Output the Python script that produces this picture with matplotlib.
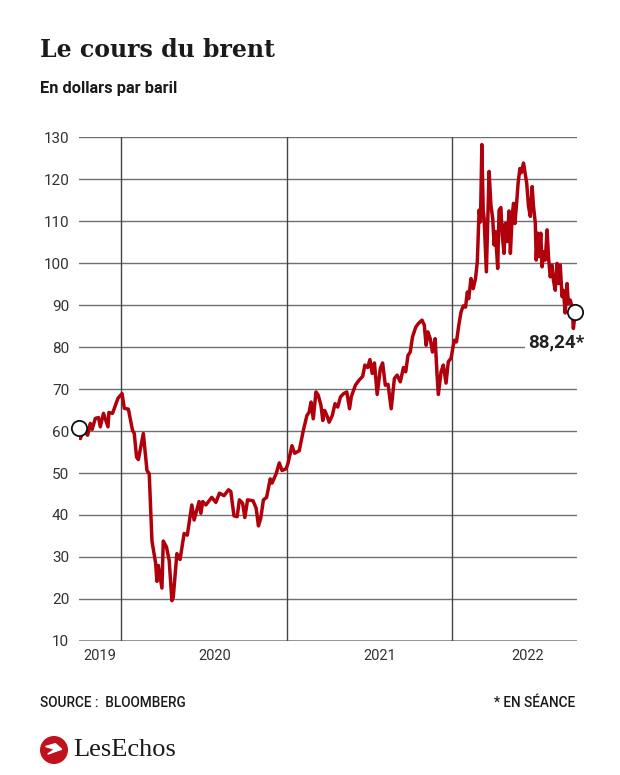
import matplotlib
matplotlib.use('Agg')
import matplotlib.pyplot as plt
from matplotlib.patches import Circle
import pandas as pd

# brent price (USD per barrel)
dates = ['2019-09-30', '2019-10-03', '2019-10-10', '2019-10-19', '2019-10-25', '2019-10-29',
         '2019-11-05', '2019-11-12', '2019-11-16', '2019-11-23', '2019-12-03', '2019-12-05',
         '2019-12-13', '2019-12-17', '2019-12-25', '2020-01-03', '2020-01-08', '2020-01-17',
         '2020-01-26', '2020-01-30', '2020-02-04', '2020-02-08', '2020-02-19', '2020-02-27',
         '2020-03-03', '2020-03-09', '2020-03-17', '2020-03-20', '2020-03-23', '2020-03-31',
         '2020-04-03', '2020-04-10', '2020-04-16', '2020-04-22', '2020-04-25', '2020-05-03',
         '2020-05-10', '2020-05-19', '2020-05-26', '2020-06-05', '2020-06-10', '2020-06-16',
         '2020-06-21', '2020-06-25', '2020-06-29', '2020-07-06', '2020-07-19', '2020-07-28',
         '2020-08-05', '2020-08-15', '2020-08-25', '2020-08-30', '2020-09-06', '2020-09-13',
         '2020-09-18', '2020-09-25', '2020-09-30', '2020-10-06', '2020-10-18', '2020-10-25',
         '2020-10-30', '2020-11-04', '2020-11-10', '2020-11-17', '2020-11-25', '2020-11-29',
         '2020-12-08', '2020-12-15', '2020-12-21', '2020-12-30', '2021-01-03', '2021-01-12',
         '2021-01-18', '2021-01-28', '2021-02-06', '2021-02-14', '2021-02-19', '2021-02-23',
         '2021-02-28', '2021-03-06', '2021-03-11', '2021-03-17', '2021-03-21', '2021-03-25',
         '2021-03-30', '2021-04-04', '2021-04-11', '2021-04-17', '2021-04-23', '2021-04-29',
         '2021-05-06', '2021-05-13', '2021-05-19', '2021-05-23', '2021-06-01', '2021-06-09',
         '2021-06-17', '2021-06-22', '2021-06-28', '2021-07-03', '2021-07-08', '2021-07-13',
         '2021-07-19', '2021-07-26', '2021-07-31', '2021-08-06', '2021-08-12', '2021-08-19',
         '2021-08-26', '2021-09-01', '2021-09-08', '2021-09-15', '2021-09-20', '2021-09-25',
         '2021-09-30', '2021-10-05', '2021-10-12', '2021-10-18', '2021-10-26', '2021-10-31',
         '2021-11-04', '2021-11-08', '2021-11-13', '2021-11-18', '2021-11-24', '2021-11-28',
         '2021-12-01', '2021-12-07', '2021-12-12', '2021-12-18', '2021-12-23', '2021-12-29',
         '2022-01-05', '2022-01-10', '2022-01-15', '2022-01-20', '2022-01-25', '2022-01-30',
         '2022-02-03', '2022-02-06', '2022-02-11', '2022-02-16', '2022-02-21', '2022-02-25',
         '2022-03-01', '2022-03-04', '2022-03-07', '2022-03-10', '2022-03-12', '2022-03-17',
         '2022-03-23', '2022-03-27', '2022-03-31', '2022-04-03', '2022-04-06', '2022-04-11',
         '2022-04-14', '2022-04-18', '2022-04-21', '2022-04-25', '2022-04-28', '2022-05-02',
         '2022-05-06', '2022-05-09', '2022-05-13', '2022-05-16', '2022-05-19', '2022-05-23',
         '2022-05-26', '2022-05-30', '2022-06-02', '2022-06-07', '2022-06-11', '2022-06-14',
         '2022-06-18', '2022-06-22', '2022-06-26', '2022-06-29', '2022-07-03', '2022-07-05',
         '2022-07-08', '2022-07-12', '2022-07-15', '2022-07-18', '2022-07-21', '2022-07-25',
         '2022-07-29', '2022-08-01', '2022-08-05', '2022-08-09', '2022-08-12', '2022-08-16',
         '2022-08-20', '2022-08-23', '2022-08-27', '2022-08-31', '2022-09-03', '2022-09-07',
         '2022-09-11', '2022-09-14', '2022-09-18', '2022-09-22', '2022-09-25', '2022-09-29']
prices = [60.8, 58.2, 60.2, 59.0, 61.8, 60.4,
          63.0, 63.2, 61.0, 64.2, 61.0, 64.4,
          64.2, 65.4, 67.8, 68.9, 65.4, 65.2,
          60.2, 59.4, 53.8, 53.2, 59.4, 50.6,
          49.8, 33.8, 28.6, 24.2, 28.0, 22.6,
          33.8, 32.4, 29.2, 19.6, 20.4, 30.8,
          29.4, 35.6, 35.2, 42.4, 38.8, 41.2,
          43.2, 40.4, 43.2, 42.4, 44.2, 43.0,
          45.2, 44.6, 46.0, 45.6, 39.8, 39.6,
          43.6, 42.8, 39.4, 43.6, 43.4, 41.6,
          37.4, 39.2, 43.6, 44.2, 48.6, 47.6,
          49.8, 52.4, 50.6, 51.0, 52.2, 56.5,
          54.7, 55.3, 60.1, 63.7, 64.5, 66.9,
          62.9, 69.3, 68.5, 66.1, 62.5, 64.9,
          63.7, 62.1, 63.7, 66.5, 65.7, 68.1,
          68.9, 69.3, 65.3, 68.2, 70.9, 72.1,
          73.0, 75.7, 75.1, 77.0, 73.7, 76.2,
          68.7, 74.9, 76.2, 70.9, 71.1, 65.3,
          72.5, 73.3, 71.7, 75.1, 74.1, 78.0,
          78.8, 82.4, 84.7, 85.6, 86.4, 85.2,
          80.4, 83.6, 82.0, 78.8, 82.0, 73.7,
          68.7, 74.1, 75.7, 71.4, 76.5, 77.3,
          81.6, 81.2, 85.1, 88.3, 89.8, 89.5,
          93.1, 91.5, 96.3, 93.9, 96.3, 100.3,
          112.6, 109.8, 128.2, 112.6, 110.6, 97.9,
          121.8, 113.8, 110.6, 104.3, 107.5, 98.7,
          112.6, 113.2, 106.7, 102.3, 109.4, 105.1,
          112.4, 102.3, 111.4, 114.2, 109.4, 114.6,
          119.0, 122.5, 121.5, 123.8, 121.0, 119.0,
          113.5, 111.1, 118.2, 113.5, 109.5, 100.7,
          107.1, 101.5, 107.1, 99.1, 102.7, 100.7,
          107.9, 101.5, 96.7, 99.5, 95.9, 93.5,
          99.9, 95.1, 99.5, 92.0, 93.5, 88.1,
          95.1, 90.4, 91.2, 89.6, 84.4, 88.24]

year_lines = ['2020-01-01', '2021-01-01', '2022-01-01']
year_labels = ['2019', '2020', '2021', '2022']
year_label_dates = ['2019-11-16', '2020-07-26', '2021-07-25', '2022-06-17']
last_label = '88,24*'

x = pd.to_datetime(dates)
red = '#b0000c'
sans = ['Roboto', 'DejaVu Sans']

fig = plt.figure(figsize=(6.2, 7.75), dpi=100)
ax = fig.add_axes([79 / 620, 1 - 641 / 775, 498 / 620, 504 / 775])

ax.set_xlim(pd.Timestamp('2019-09-30'), pd.Timestamp('2022-10-03'))
ax.set_ylim(10, 130)
ax.set_yticks(range(10, 131, 10))

for v in range(20, 131, 10):
    ax.axhline(v, color='#707070', lw=1.0, zorder=1)
ax.axhline(10, color='#8a8a8a', lw=2.0, zorder=1)
for d in year_lines:
    ax.axvline(pd.Timestamp(d), color='#444444', lw=1.0, zorder=1)

ax.plot(x, prices, color=red, lw=2.5, zorder=3, solid_joinstyle='round')
ax.plot([x[0], x[-1]], [prices[0], prices[-1]], 'o', ms=11, mfc='white',
        mec='#111111', mew=1.3, zorder=4, clip_on=False)

ax.annotate(last_label, xy=(1.014, 81), xycoords=('axes fraction', 'data'),
            ha='right', va='center', fontsize=13.5, fontweight='bold',
            family=sans, color='#222222', zorder=5,
            bbox=dict(boxstyle='square,pad=0.15', fc='white', ec='none'),
            annotation_clip=False)

for s in ax.spines.values():
    s.set_visible(False)
ax.tick_params(axis='y', length=0, pad=7, labelsize=11, labelcolor='#333333')
ax.set_xticks([pd.Timestamp(d) for d in year_label_dates])
ax.set_xticklabels(year_labels)
ax.tick_params(axis='x', length=0, pad=6, labelsize=10.5, labelcolor='#333333')
for lab in ax.get_xticklabels() + ax.get_yticklabels():
    lab.set_family(sans)

fig.text(40 / 620, 1 - 50 / 775, 'Le cours du brent', fontsize=17, fontweight='bold',
         family=['DejaVu Serif'], color='#1a1a1a', va='center', ha='left')
fig.text(40 / 620, 1 - 88 / 775, 'En dollars par baril', fontsize=11.8, fontweight='bold',
         family=sans, color='#1a1a1a', va='center', ha='left')
fig.text(40 / 620, 1 - 703 / 775, 'SOURCE :  BLOOMBERG', fontsize=9.8, fontweight='medium',
         family=sans, color='#1a1a1a', va='center', ha='left')
fig.text(575 / 620, 1 - 703 / 775, '* EN SÉANCE', fontsize=9.8, fontweight='medium',
         family=sans, color='#1a1a1a', va='center', ha='right')

# logo
logo = fig.add_axes([40 / 620, 1 - 764 / 775, 28 / 620, 28 / 775])
logo.set_xlim(-1, 1)
logo.set_ylim(-1, 1)
logo.set_aspect('equal')
logo.axis('off')
logo.add_patch(Circle((0, 0), 0.95, color='#c0121c'))
logo.fill([-0.6, 0.1, 0.55, 0.1, -0.45, 0.05], [0.25, 0.45, 0.05, -0.1, -0.3, 0.05],
          color='white')
fig.text(73 / 620, 1 - 750 / 775, 'LesEchos', fontsize=19, family=['Liberation Serif'],
         color='#1a1a1a', va='center', ha='left')

fig.savefig('out.png', dpi=100)
